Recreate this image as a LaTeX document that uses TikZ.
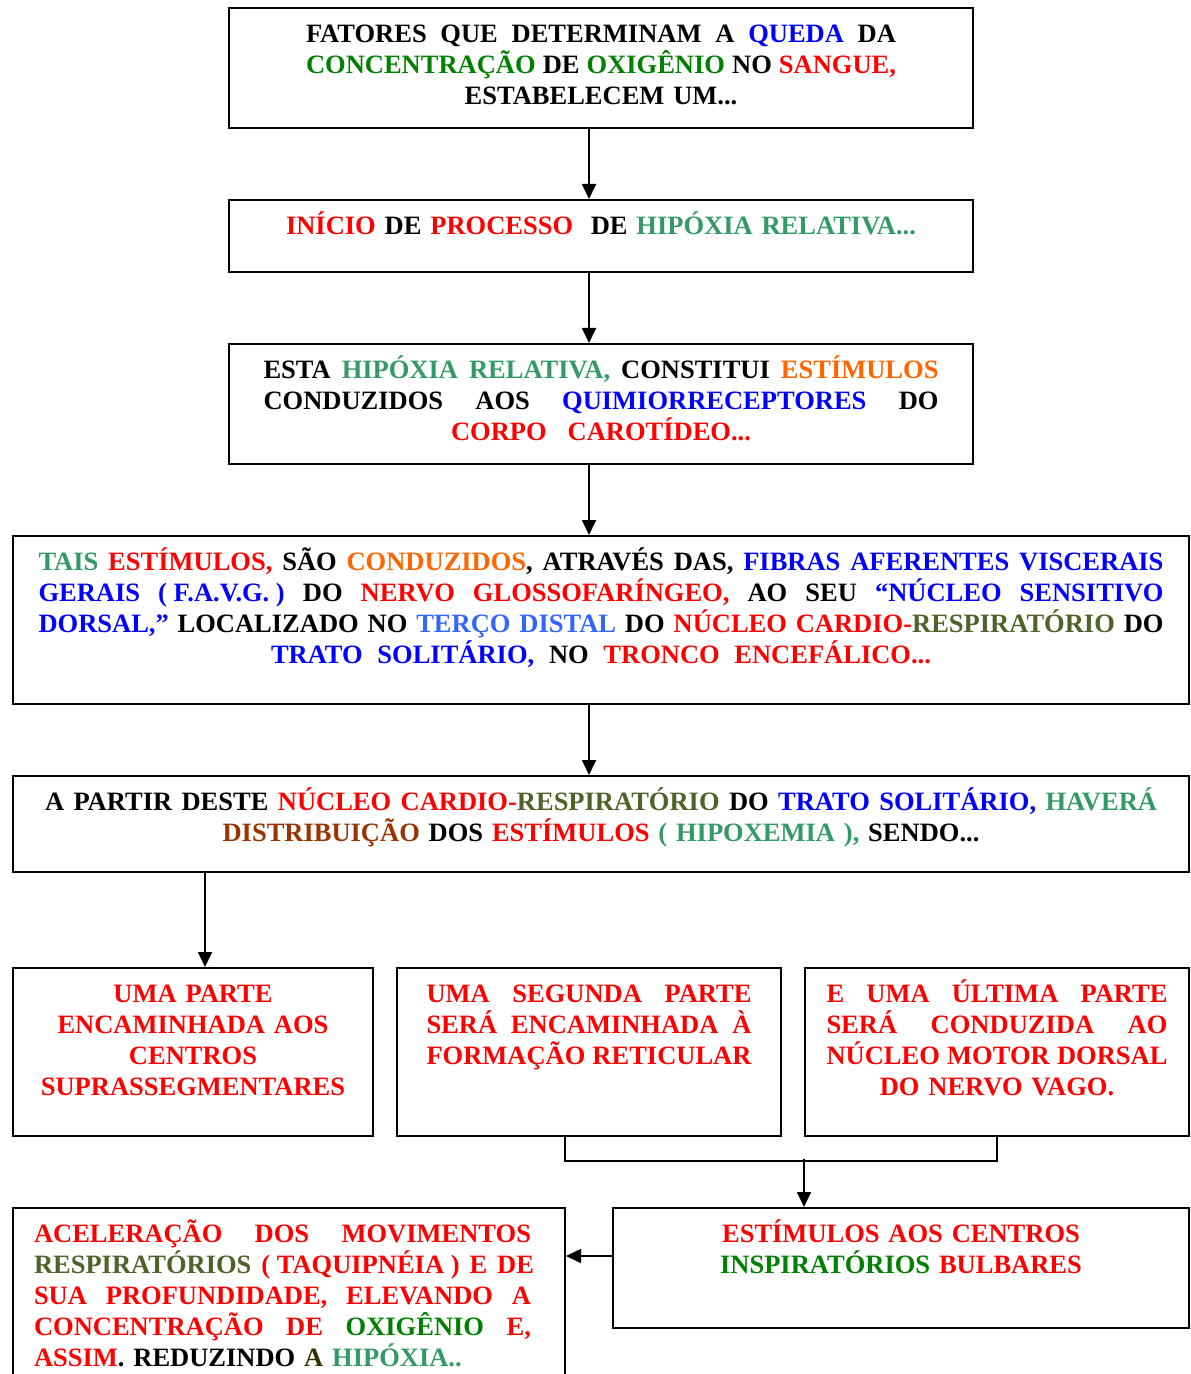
\documentclass[tikz,border=0pt]{standalone}
\usepackage{fontspec}
\setmainfont{Liberation Serif}
\usetikzlibrary{arrows.meta,positioning}

\definecolor{qblue}{RGB}{0,0,255}
\definecolor{qgreen}{RGB}{0,128,0}
\definecolor{qred}{RGB}{255,0,0}
\definecolor{qsea}{RGB}{51,153,102}
\definecolor{qorange}{RGB}{255,102,0}
\definecolor{qsky}{RGB}{51,102,255}
\definecolor{qolive}{RGB}{79,98,40}
\definecolor{qbrown}{RGB}{153,51,0}
\definecolor{qdark}{RGB}{51,51,0}

\newcommand{\cblue}[1]{\textcolor{qblue}{#1}}
\newcommand{\cgreen}[1]{\textcolor{qgreen}{#1}}
\newcommand{\cred}[1]{\textcolor{qred}{#1}}
\newcommand{\csea}[1]{\textcolor{qsea}{#1}}
\newcommand{\corange}[1]{\textcolor{qorange}{#1}}
\newcommand{\csky}[1]{\textcolor{qsky}{#1}}
\newcommand{\colive}[1]{\textcolor{qolive}{#1}}
\newcommand{\cbrown}[1]{\textcolor{qbrown}{#1}}
\newcommand{\cdark}[1]{\textcolor{qdark}{#1}}
%% justified line of a given width (spaces stretch evenly)
\newcommand{\jl}[2]{{\spaceskip=.25em plus 1fil\relax\makebox[#1][s]{#2}}}
\newcommand{\fixsp}{\kern.25em}
\newcommand{\boxfont}{\fontsize{13.25pt}{15.5pt}\selectfont\bfseries\frenchspacing}

\tikzset{
  box/.style={draw, line width=1pt, inner sep=0pt, anchor=north west,
    align=center, font=\boxfont, text height=17.4pt},
  arr/.style={->, line width=0.9pt},
  link/.style={line width=0.9pt}
}

\begin{document}
\begin{tikzpicture}[x=0.5pt, y=-0.5pt, >={Triangle[length=7.5pt,width=7pt]}]
  \useasboundingbox (0,0) rectangle (1190,1374);
  \clip (0,0) rectangle (1190,1374);

  %% ── Top column ──────────────────────────────
  \node[box, minimum width=372pt, text width=295pt, text depth=42.6pt]
    (fatores) at (228,7) {%
    \jl{295pt}{FATORES QUE DETERMINAM A \cblue{QUEDA} DA}\\
    \jl{295pt}{\cgreen{CONCENTRAÇÃO} DE \cgreen{OXIGÊNIO} NO \cred{SANGUE,}}\\
    ESTABELECEM UM...};
  \node[box, minimum width=372pt, text width=330pt, text depth=18.6pt]
    (inicio) at (228,199) {%
    \cred{INÍCIO} DE \cred{PROCESSO}\ \ DE \csea{HIPÓXIA RELATIVA...}};
  \node[box, minimum width=372pt, text width=337.5pt, text depth=42.6pt]
    (esta) at (228,343) {%
    \jl{337.5pt}{ESTA \csea{HIPÓXIA RELATIVA,} CONSTITUI \corange{ESTÍMULOS}}\\
    \jl{337.5pt}{CONDUZIDOS AOS \cblue{QUIMIORRECEPTORES} DO}\\
    \jl{150pt}{\cred{CORPO CAROTÍDEO...}}};

  %% ── Wide boxes ──────────────────────────────
  \node[box, minimum width=588pt, text width=563pt, text depth=66.6pt]
    (tais) at (12,535) {%
    \jl{562.5pt}{\csea{TAIS} \cred{ESTÍMULOS,} SÃO \corange{CONDUZIDOS}, ATRAVÉS DAS, \cblue{FIBRAS AFERENTES VISCERAIS}}\\
    \jl{562.5pt}{\cblue{GERAIS (\fixsp F.A.V.G.\fixsp)} DO \cred{NERVO GLOSSOFARÍNGEO,} AO SEU \cblue{“NÚCLEO SENSITIVO}}\\
    \jl{562.5pt}{\cblue{DORSAL,”} LOCALIZADO NO \csky{TERÇO DISTAL} DO \cred{NÚCLEO CARDIO-}\colive{RESPIRATÓRIO} DO}\\
    \jl{330pt}{\cblue{TRATO SOLITÁRIO,} NO \cred{TRONCO ENCEFÁLICO...}}};
  \node[box, minimum width=588pt, text width=556pt, text depth=30.6pt]
    (partir) at (12,775) {%
    \jl{556pt}{A PARTIR DESTE \cred{NÚCLEO CARDIO-}\colive{RESPIRATÓRIO} DO \cblue{TRATO SOLITÁRIO,} \csea{HAVERÁ}}\\
    \cbrown{DISTRIBUIÇÃO} DOS \cred{ESTÍMULOS} \csea{( HIPOXEMIA ),} SENDO...};

  %% ── Three parts ─────────────────────────────
  \node[box, minimum width=180pt, text width=170pt, text depth=66.6pt, text=qred]
    (parte1) at (12,967) {%
    UMA PARTE\\ ENCAMINHADA AOS\\ CENTROS\\ SUPRASSEGMENTARES};
  \node[box, minimum width=192pt, text width=163pt, text depth=66.6pt, text=qred]
    (parte2) at (396,967) {%
    \jl{162.5pt}{UMA SEGUNDA PARTE}\\
    \jl{162.5pt}{SERÁ ENCAMINHADA À}\\
    \jl{162.5pt}{FORMAÇÃO RETICULAR}};
  \node[box, minimum width=192pt, text width=171pt, text depth=66.6pt, text=qred]
    (parte3) at (804,967) {%
    \jl{170.5pt}{E UMA ÚLTIMA PARTE}\\
    \jl{170.5pt}{SERÁ CONDUZIDA AO}\\
    \jl{170.5pt}{NÚCLEO MOTOR DORSAL}\\
    DO NERVO VAGO.};

  %% ── Bottom row ──────────────────────────────
  \node[box, minimum width=288pt, text width=260pt, text depth=42.6pt, text=qred]
    (bulbar) at (612,1207) {%
    ESTÍMULOS AOS CENTROS\\
    \cgreen{INSPIRATÓRIOS} BULBARES};
  \node[box, minimum width=276pt, text width=255pt, text depth=70pt, align=left, text=qred]
    (acelera) at (12,1207) {%
    \jl{248.5pt}{ACELERAÇÃO DOS MOVIMENTOS}\\
    \jl{250pt}{\colive{RESPIRATÓRIOS} (\fixsp TAQUIPNÉIA\fixsp) E DE}\\
    \jl{248.5pt}{SUA PROFUNDIDADE, ELEVANDO A}\\
    \jl{248.5pt}{CONCENTRAÇÃO DE \cgreen{OXIGÊNIO} E,}\\
    ASSIM\textcolor{black}{. REDUZINDO} \cdark{A} \csea{HIPÓXIA..}};

  %% ── Connectors ──────────────────────────────
  \draw[arr] ([xshift=-6pt]fatores.south) -- ([xshift=-6pt]inicio.north);
  \draw[arr] ([xshift=-6pt]inicio.south) -- ([xshift=-6pt]esta.north);
  \draw[arr] ([xshift=-6pt]esta.south) -- ([xshift=-6pt]tais.north);
  \draw[arr] ([xshift=-6pt]tais.south) -- ([xshift=-6pt]partir.north);
  \draw[arr] ([xshift=6pt]parte1.north |- partir.south) -- ([xshift=6pt]parte1.north);
  \draw[link] ([xshift=-12pt]parte2.south) -- ++(0,24) -| (parte3.south);
  \coordinate (junta) at ([yshift=24pt]bulbar.north -| parte3.west);
  \draw[arr] (junta) -- (junta |- bulbar.north);
  \draw[arr] ([yshift=6pt]bulbar.west) -- ([yshift=6pt]bulbar.west -| acelera.east);
\end{tikzpicture}
\end{document}
